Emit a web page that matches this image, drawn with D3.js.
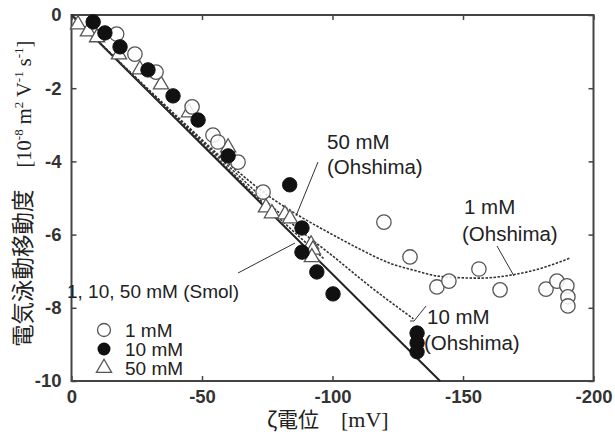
<!DOCTYPE html>
<html>
<head>
  <meta charset="utf-8">
  <script src="https://d3js.org/d3.v7.min.js"></script>
</head>
<style>
  body { margin: 0; background: #fff; }
  svg { display: block; }
  .frame { fill: none; stroke: #444; stroke-width: 2px; }
  .axis text { font-family: "Liberation Sans", Arial, sans-serif; font-size: 18.5px; font-weight: bold; fill: #333; }
  .axis line { stroke: #444; stroke-width: 1.5px; }
  .axis path { display: none; }
  .note { font-family: "Liberation Sans", Arial, sans-serif; font-size: 19px; fill: #222; }
  .big { font-size: 20.5px; }
  .leader { stroke: #333; stroke-width: 1px; fill: none; }
</style>
<body>
  <svg id="chart" width="615" height="436"></svg>
  <script>
    // zeta potential [mV] vs mobility [1e-8 m2/Vs]
    const mM1 = [
      [-17.3, -0.52], [-24.3, -1.07], [-32.4, -1.56], [-46.2, -2.51], [-54.2, -3.28],
      [-56.1, -3.47], [-63.8, -4.02], [-73.4, -4.84], [-119.7, -5.66], [-129.7, -6.61],
      [-140.0, -7.43], [-144.6, -7.27], [-156.1, -6.94], [-164.2, -7.51], [-181.8, -7.49],
      [-186.0, -7.27], [-189.8, -7.40], [-190.2, -7.70], [-190.2, -7.95]
    ];
    const mM10 = [
      [-8.3, -0.19], [-12.8, -0.49], [-18.6, -0.87], [-29.3, -1.50], [-38.9, -2.21],
      [-48.5, -2.87], [-60.0, -3.85], [-83.6, -4.64], [-88.3, -5.82], [-88.3, -6.48],
      [-94.0, -7.02], [-100.2, -7.62], [-132.4, -8.69], [-132.4, -8.96], [-132.4, -9.20]
    ];
    const mM50 = [
      [-2.5, -0.22], [-6.3, -0.41], [-9.8, -0.57], [-18.2, -1.04], [-26.2, -1.45],
      [-34.3, -1.86], [-45.0, -2.62], [-60.0, -3.58], [-74.5, -5.22], [-76.8, -5.38],
      [-81.8, -5.41], [-83.7, -5.52], [-91.8, -6.23], [-92.5, -6.37], [-92.1, -6.58]
    ];
    const smol = [[0, 0], [-141.2, -10]];
    const ohshima1 = [
      [0, 0], [-20, -1.39], [-40, -2.74], [-60, -4.05], [-76, -4.97], [-87.5, -5.5],
      [-100, -6.0], [-110, -6.38], [-122, -6.78], [-132, -6.99], [-141, -7.14],
      [-156, -7.19], [-169, -7.1], [-180, -6.92], [-191, -6.64]
    ];
    const ohshima10 = [
      [0, 0], [-20, -1.40], [-40, -2.78], [-60, -4.12], [-76, -5.18], [-87.5, -5.88],
      [-100, -6.58], [-115, -7.45], [-131, -8.3]
    ];
    const ohshima50 = [
      [0, 0], [-20, -1.41], [-40, -2.81], [-60, -4.2], [-80, -5.58], [-97, -6.68]
    ];
    const xTicks = [0, -50, -100, -150, -200];
    const yTicks = [0, -2, -4, -6, -8, -10];

    const svg = d3.select("#chart");
    const x = d3.scaleLinear().domain([0, -200]).range([71.5, 593.5]);
    const y = d3.scaleLinear().domain([0, -10]).range([15, 381]);

    // axes, ticks pointing inwards on all sides
    svg.append("g").attr("class", "axis")
      .attr("transform", `translate(0,${y(-10)})`)
      .call(d3.axisBottom(x).tickValues(xTicks).tickSizeInner(-5).tickSizeOuter(0).tickPadding(9).tickFormat(d => String(d)));
    svg.append("g").attr("class", "axis")
      .attr("transform", `translate(0,${y(0)})`)
      .call(d3.axisTop(x).tickValues(xTicks).tickSizeInner(-5).tickSizeOuter(0).tickFormat(""));
    svg.append("g").attr("class", "axis")
      .attr("transform", `translate(${x(0)},0)`)
      .call(d3.axisLeft(y).tickValues(yTicks).tickSizeInner(-5).tickSizeOuter(0).tickPadding(10).tickFormat(d => String(d)));
    svg.append("g").attr("class", "axis")
      .attr("transform", `translate(${x(-200)},0)`)
      .call(d3.axisRight(y).tickValues(yTicks).tickSizeInner(-5).tickSizeOuter(0).tickFormat(""));

    svg.append("rect").attr("class", "frame")
      .attr("x", x(0)).attr("y", y(0))
      .attr("width", x(-200) - x(0)).attr("height", y(-10) - y(0));

    const line = d3.line().x(d => x(d[0])).y(d => y(d[1])).curve(d3.curveMonotoneX);

    const plot = svg.append("g");
    plot.append("path").datum(smol).attr("d", line)
      .attr("fill", "none").attr("stroke", "#222").attr("stroke-width", 2);
    [ohshima50, ohshima10, ohshima1].forEach(c => {
      plot.append("path").datum(c).attr("d", line)
        .attr("fill", "none").attr("stroke", "#333").attr("stroke-width", 1.6)
        .attr("stroke-dasharray", "2.5,1.5");
    });

    // markers
    const tri = d3.symbol().type(d3.symbolTriangle).size(100);
    plot.selectAll(".t50").data(mM50).join("path")
      .attr("transform", d => `translate(${x(d[0])},${y(d[1]) + 1.5})`)
      .attr("d", tri).attr("fill", "#fff").attr("stroke", "#555").attr("stroke-width", 1.3);
    plot.selectAll(".c1").data(mM1).join("circle")
      .attr("cx", d => x(d[0])).attr("cy", d => y(d[1])).attr("r", 7.2)
      .attr("fill", "#fff").attr("fill-opacity", 0.85).attr("stroke", "#555").attr("stroke-width", 1.3);
    plot.selectAll(".c10").data(mM10).join("circle")
      .attr("cx", d => x(d[0])).attr("cy", d => y(d[1])).attr("r", 7.2)
      .attr("fill", "#111").attr("stroke", "#111").attr("stroke-width", 1);

    // annotations
    const note = (tx, ty, s, cls) => svg.append("text").attr("class", "note " + (cls || ""))
      .attr("x", tx).attr("y", ty).text(s);
    const lead = (x1, y1, x2, y2) => svg.append("line").attr("class", "leader")
      .attr("x1", x1).attr("y1", y1).attr("x2", x2).attr("y2", y2);

    note(327, 149, "50 mM", "big");
    note(327, 174, "(Ohshima)", "big");
    lead(318, 162, 296, 216);

    note(464, 214, "1 mM", "big");
    note(462, 241, "(Ohshima)", "big");
    lead(497, 246, 514, 276);

    note(427, 324, "10 mM", "big");
    note(424, 350, "(Ohshima)", "big");
    lead(414, 321, 426, 306);
    lead(410, 321, 414, 321);

    note(67, 298, "1, 10, 50 mM (Smol)");
    lead(238, 273, 295, 243);

    // legend
    const lg = svg.append("g");
    lg.append("circle").attr("cx", 104).attr("cy", 330).attr("r", 6.5)
      .attr("fill", "#fff").attr("stroke", "#555").attr("stroke-width", 1.3);
    lg.append("circle").attr("cx", 104).attr("cy", 349).attr("r", 6.5).attr("fill", "#111");
    lg.append("path").attr("transform", "translate(104,368)").attr("d", tri)
      .attr("fill", "#fff").attr("stroke", "#555").attr("stroke-width", 1.3);
    note(125, 337, "1 mM");
    note(125, 356, "10 mM");
    note(125, 375, "50 mM");

    // axis titles
    const xt = svg.append("text").attr("x", 267).attr("y", 427)
      .style("fill", "#222");
    xt.append("tspan").style("font-family", "'Noto Sans CJK JP', sans-serif").style("font-size", "21px").text("ζ電位");
    xt.append("tspan").attr("dx", 22).style("font-family", "'Liberation Serif', serif").style("font-size", "22px").text("[mV]");

    const yt = svg.append("text").attr("transform", "translate(31,347) rotate(-90)")
      .attr("text-anchor", "start").style("fill", "#222");
    yt.append("tspan").style("font-family", "'Noto Sans CJK JP', sans-serif").style("font-size", "22.5px").text("電気泳動移動度");
    const serif = (s, sup, dx) => yt.append("tspan")
      .style("font-family", "'Liberation Serif', serif")
      .style("font-size", sup === 1 ? "13px" : "20.5px")
      .attr("dx", dx || 0)
      .attr("dy", sup === 1 ? -8 : sup === -1 ? 8 : 0)
      .text(s);
    serif("[10", 0, 22);
    serif("-8", 1);
    serif(" m", -1);
    serif("2", 1);
    serif(" V", -1);
    serif("-1", 1);
    serif(" s", -1);
    serif("-1", 1);
    serif("]", -1);
  </script>
</body>
</html>
